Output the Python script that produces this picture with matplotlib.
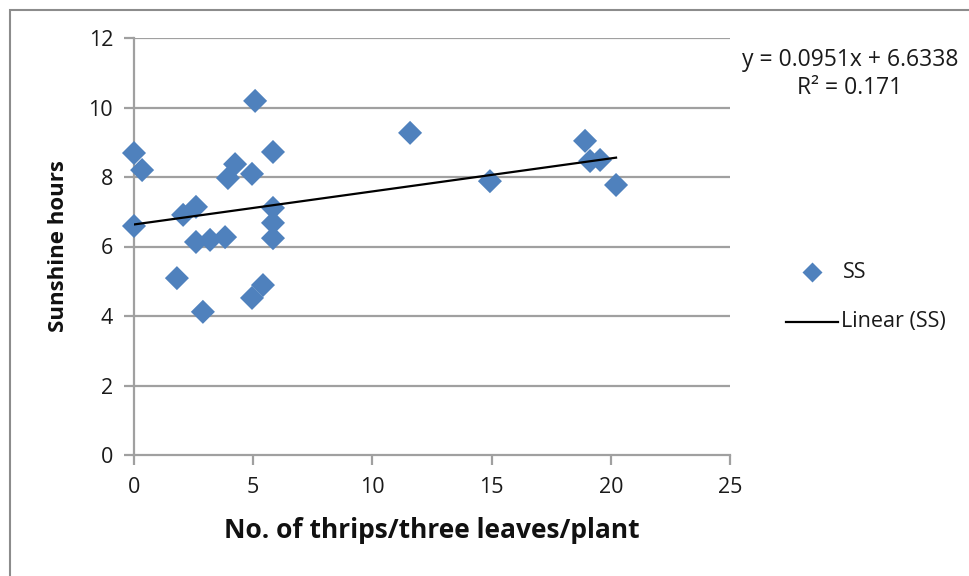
import matplotlib
matplotlib.use("Agg")
import matplotlib.pyplot as plt
from matplotlib.lines import Line2D
from matplotlib.patches import Rectangle

thrips = [0.0, 0.34, 0.0, 2.06, 2.6, 2.6, 3.19, 3.82, 1.80, 2.89, 3.94, 4.24, 4.95, 5.08,
          5.83, 5.83, 5.83, 5.83, 4.95, 5.41, 11.58, 14.93, 18.92, 19.13, 19.55, 20.22]
sunshine = [8.69, 8.20, 6.59, 6.91, 7.14, 6.13, 6.19, 6.27, 5.09, 4.12, 7.97, 8.37, 8.09, 10.19,
            8.72, 7.11, 6.68, 6.24, 4.52, 4.89, 9.27, 7.88, 9.04, 8.46, 8.49, 7.77]
slope = 0.0951
intercept = 6.6338
eq_text = "y = 0.0951x + 6.6338\nR² = 0.171"
x_ticks = [0, 5, 10, 15, 20, 25]
y_ticks = [0, 2, 4, 6, 8, 10, 12]

plt.rcParams['font.family'] = ['Open Sans', 'DejaVu Sans']

fig = plt.figure(figsize=(9.7, 5.76), dpi=100)
fig.patch.set_facecolor('white')
ax = fig.add_axes([134/970, 1-455/576, (730-134)/970, (455-38)/576])

grid_c = '#a0a0a0'
ax.set_xlim(0, 25)
ax.set_ylim(0, 12)
ax.set_xticks(x_ticks)
ax.set_yticks(y_ticks)
for y in y_ticks[1:]:
    ax.axhline(y, color=grid_c, lw=1.6, zorder=1)
for s in ['top', 'right']:
    ax.spines[s].set_visible(False)
for s in ['left', 'bottom']:
    ax.spines[s].set_color(grid_c)
    ax.spines[s].set_linewidth(1.6)
ax.tick_params(axis='both', direction='out', length=7, width=1.6, color=grid_c,
               labelsize=15.5, labelcolor='#1a1a1a')
ax.tick_params(axis='x', pad=9)
ax.tick_params(axis='y', pad=8)

ax.scatter(thrips, sunshine, marker='D', s=150, color='#4F81BD', edgecolors='none', zorder=3, clip_on=False)
x0, x1 = min(thrips), max(thrips)
ax.plot([x0, x1], [slope*x0 + intercept, slope*x1 + intercept], color='black', lw=1.6, zorder=4)

ax.set_xlabel("No. of thrips/three leaves/plant", fontsize=19, fontweight='bold', color='#111111')
ax.xaxis.set_label_coords(0.5, (455-531)/417)
ax.xaxis.label.set_va('center')
ax.set_ylabel("Sunshine hours", fontsize=16, fontweight='bold', color='#111111')
ax.yaxis.set_label_coords((58-134)/596, 0.5)
ax.yaxis.label.set_va('center')

fig.text(850/970, 1-74/576, eq_text, ha='center', va='center', fontsize=16.5,
         linespacing=1.25, color='#1a1a1a')

# legend
fig.add_artist(Line2D([812/970], [1-272/576], marker='D', markersize=10, color='#4F81BD',
                      markeredgecolor='none', linestyle='none'))
fig.text(843/970, 1-272/576, "SS", ha='left', va='center', fontsize=15.5, color='#1a1a1a')
fig.add_artist(Line2D([786/970, 838/970], [1-322/576, 1-322/576], color='black', lw=1.6))
fig.text(841/970, 1-322/576, "Linear (SS)", ha='left', va='center', fontsize=15.5, color='#1a1a1a')

# outer border
fig.add_artist(Rectangle((10/970, -0.1), 1.1, 1.1 - 10/576, transform=fig.transFigure,
                         fill=False, edgecolor='#8c8c8c', lw=1.5))

fig.savefig("out.png", dpi=100, facecolor='white')
